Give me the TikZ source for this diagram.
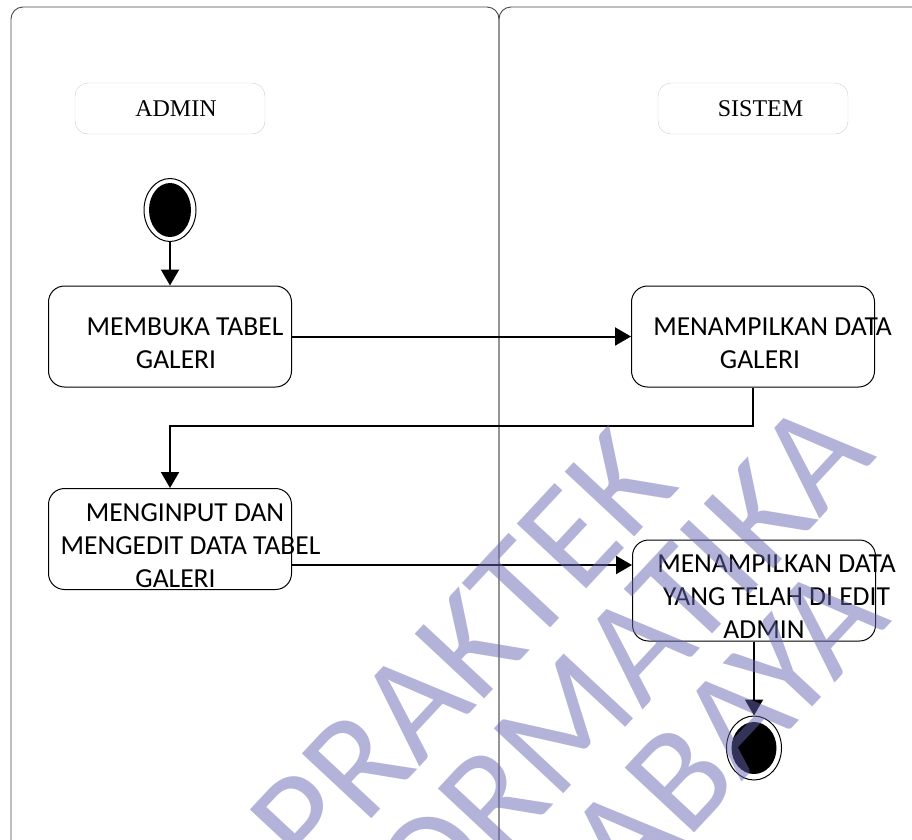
\documentclass[tikz,border=0pt]{standalone}
\usepackage{fontspec}
\setmainfont{Carlito}
\newfontfamily\lanefont{Liberation Serif}
\usetikzlibrary{arrows.meta,shapes.geometric}
\definecolor{wmblue}{RGB}{103,103,179}
\definecolor{lanegray}{RGB}{70,70,70}

\begin{document}
\begin{tikzpicture}[x=1pt, y=-1pt,
    lane/.style = {draw=lanegray, line width=0.9pt, rounded corners=12pt},
    actor/.style = {draw=gray!40, rounded corners=13pt, minimum width=190pt, minimum height=51pt, inner sep=0pt, font=\lanefont\fontsize{24}{24}\selectfont},
    act/.style = {draw, line width=1pt, rounded corners=16pt, minimum width=243pt, minimum height=101pt, inner sep=0pt},
    acttxt/.style = {align=center, inner sep=0pt, font=\fontsize{27.5}{33}\selectfont},
    ring/.style = {draw, ellipse, line width=1pt, inner sep=0pt},
    dot/.style = {fill=black, ellipse, inner sep=0pt},
    flow/.style = {line width=2pt, -{Triangle[length=16pt, width=18pt]}},
    wm/.style = {text=wmblue, opacity=0.5, rotate=47, anchor=base, inner sep=0pt, font=\fontsize{148}{148}\selectfont}]

          \useasboundingbox (0,0) rectangle (912,839);

          \draw[lane] (11,7) rectangle (499,852);
          \draw[lane] (499,7) rectangle (940,852);

          \node[actor] (admin)  at (170,108.5) {\hspace*{12pt}ADMIN};
          \node[actor] (sistem) at (753,108.5) {\hspace*{15pt}SISTEM};

          \node[ring, minimum width=52pt, minimum height=63pt] (start)    at (170,210) {};
          \node[dot,  minimum width=42pt, minimum height=54pt] (startdot) at (170,210) {};

          \node[act] (buka)   at (170,336.5) {};
          \node[act] (tampil) at (753,336.5) {};
          \node[act] (input)  at (170,539)   {};
          \node[act] (hasil)  at (754,590.5) {};

          \node[acttxt] (bukatxt)   at (176,343)   {\hspace*{18pt}MEMBUKA TABEL\\GALERI};
          \node[acttxt] (tampiltxt) at (760,343)   {\hspace*{25pt}MENAMPILKAN DATA\\GALERI};
          \node[acttxt] (inputtxt)  at (175.5,545.5) {\hspace*{19pt}MENGINPUT DAN\\\hspace*{30pt}MENGEDIT DATA TABEL\\GALERI};
          \node[acttxt] (hasiltxt)  at (764,596.5) {\hspace*{25pt}MENAMPILKAN DATA\\\hspace*{25pt}YANG TELAH DI EDIT\\ADMIN};

          \node[ring, minimum width=55pt, minimum height=64pt] (end)    at (754,748) {};
          \node[dot,  minimum width=45pt, minimum height=52pt] (enddot) at (754,748) {};

          \draw[flow] (start) -- (buka);
          \draw[flow] (buka) -- (tampil);
          \draw[flow] (tampil.south) -- ++(0,38) -| (input.north);
          \draw[flow] ([yshift=-26pt]input.east) -- ([yshift=-26pt]input.east -| hasil.west);
          \draw[flow] (hasil) -- (end);

          \node[wm] (wm1) at (497,685) {PRAKTEK};
          \node[wm] (wm2) at (588,768) {INFORMATIKA};
          \node[wm] (wm3) at (678,851) {SURABAYA};
\end{tikzpicture}
\end{document}
